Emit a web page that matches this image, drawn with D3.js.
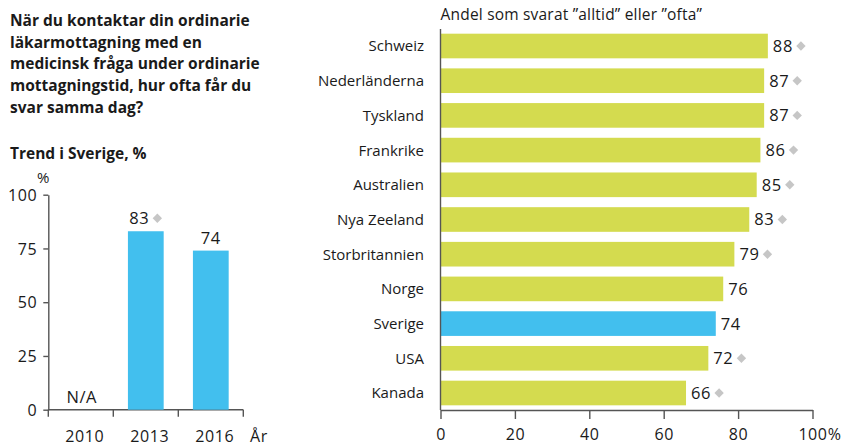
<!DOCTYPE html>
<html>
<head>
<meta charset="utf-8">
<script src="https://cdn.jsdelivr.net/npm/d3@7"></script>
<style>
  body { margin: 0; background: #fff; }
  svg { display: block; }
  text { font-family: "Open Sans", sans-serif; fill: #1a1a1a; }
  .title { font-weight: 700; font-size: 15.5px; }
  .num { font-size: 16.5px; letter-spacing: 0.6px; }
  .axis path, .axis line { stroke: #555; stroke-width: 1.4; }
  .axis text { font-size: 16px; letter-spacing: 0.6px; fill: #1a1a1a; }
</style>
</head>
<body>
<svg id="chart" width="841" height="447"></svg>
<script>
// left: trend in Sweden
const years = ['2010', '2013', '2016'];
const trendValues = [null, 83, 74];
const trendMarked = [false, true, false];
const trendTicks = [0, 25, 50, 75, 100];

// right: countries
const countries = ['Schweiz', 'Nederländerna', 'Tyskland', 'Frankrike', 'Australien',
  'Nya Zeeland', 'Storbritannien', 'Norge', 'Sverige', 'USA', 'Kanada'];
const countryValues = [88, 87, 87, 86, 85, 83, 79, 76, 74, 72, 66];
const countryMarked = [true, true, true, true, true, true, true, false, false, true, true];
const xTicks = [0, 20, 40, 60, 80, 100];

const titleLines = ['När du kontaktar din ordinarie', 'läkarmottagning med en',
  'medicinsk fråga under ordinarie', 'mottagningstid, hur ofta får du', 'svar samma dag?'];

const green = '#d4db4f';
const blue = '#42bfee';
const grey = '#c6c6c6';

const svg = d3.select('#chart');

// title text
const title = svg.append('text').attr('class', 'title');
titleLines.forEach((l, i) => {
  title.append('tspan').attr('x', 10).attr('y', 26 + i * 21.7).text(l);
});
svg.append('text').attr('class', 'title').attr('x', 10).attr('y', 159).text('Trend i Sverige, %');

function addDiamond(g, x, y) {
  g.append('path')
    .attr('d', d3.symbol().type(d3.symbolDiamond2).size(56)())
    .attr('transform', `translate(${x},${y})`)
    .attr('fill', grey);
}

// ---- left chart ----
const yL = d3.scaleLinear().domain([0, 100]).range([409.7, 194.7]);
const xL = d3.scaleBand().domain(years).range([48.3, 243.3]).paddingInner(0.45).paddingOuter(0.225);

const left = svg.append('g');
left.append('g').attr('class', 'axis')
  .attr('transform', 'translate(48.3,0)')
  .call(d3.axisLeft(yL).tickValues(trendTicks).tickSize(5).tickSizeOuter(0).tickPadding(6))
  .call(g => g.selectAll('text').attr('dy', '0.36em'));

const xAxisL = left.append('g').attr('class', 'axis')
  .attr('transform', 'translate(0,409.7)');
xAxisL.append('line').attr('x1', 48.3).attr('x2', 243.3).attr('y1', 0).attr('y2', 0);
const bounds = [48.3].concat(years.map(y => xL(y) - xL.step() * xL.paddingInner() / 2 + xL.step()));
bounds.forEach(b => xAxisL.append('line').attr('x1', b).attr('x2', b).attr('y1', 0).attr('y2', 7));
years.forEach(y => {
  xAxisL.append('text').attr('x', xL(y) + xL.bandwidth() / 2 + 4).attr('y', 27)
    .attr('dy', '0.36em').attr('text-anchor', 'middle').text(y);
});
xAxisL.append('text').attr('x', 250).attr('y', 27).attr('dy', '0.36em').text('År');
left.append('text').attr('x', 37).attr('y', 178).attr('dy', '0.36em').attr('font-size', 15).text('%');

years.forEach((y, i) => {
  const v = trendValues[i];
  const cx = xL(y) + xL.bandwidth() / 2;
  if (v === null) {
    left.append('text').attr('class', 'num').attr('x', cx + 1).attr('y', 397).attr('dy', '0.36em')
      .attr('text-anchor', 'middle').text('N/A');
    return;
  }
  left.append('rect').attr('x', xL(y)).attr('width', xL.bandwidth())
    .attr('y', yL(v)).attr('height', yL(0) - yL(v)).attr('fill', blue);
  const t = left.append('text').attr('class', 'num').attr('y', yL(v) - 13).attr('dy', '0.36em')
    .text(v);
  const w = t.node().getComputedTextLength();
  const total = trendMarked[i] ? w + 13 : w;
  t.attr('x', cx - total / 2);
  if (trendMarked[i]) addDiamond(left, cx - total / 2 + w + 8, yL(v) - 13);
});

// ---- right chart ----
const xR = d3.scaleLinear().domain([0, 100]).range([440.5, 812.5]);
const yR = d3.scaleBand().domain(countries).range([29, 410]).paddingInner(0.29).paddingOuter(0.135);

const right = svg.append('g');
right.append('text').attr('x', 440.5).attr('y', 20).attr('font-size', 15.5)
  .attr('letter-spacing', 0.2).text('Andel som svarat ”alltid” eller ”ofta”');

countries.forEach((c, i) => {
  const v = countryValues[i];
  const yc = yR(c) + yR.bandwidth() / 2;
  right.append('rect').attr('x', xR(0)).attr('y', yR(c))
    .attr('width', xR(v) - xR(0)).attr('height', yR.bandwidth())
    .attr('fill', c === 'Sverige' ? blue : green);
  const t = right.append('text').attr('class', 'num').attr('x', xR(v) + 5).attr('y', yc).attr('dy', '0.36em')
    .text(v);
  if (countryMarked[i]) addDiamond(right, xR(v) + 5 + t.node().getComputedTextLength() + 8, yc);
  right.append('text').attr('x', 424).attr('y', yc).attr('dy', '0.36em')
    .attr('text-anchor', 'end').attr('font-size', 15).text(c);
});

const xAxisR = right.append('g').attr('class', 'axis')
  .attr('transform', 'translate(0,410)')
  .call(d3.axisBottom(xR).tickValues(xTicks).tickSize(9).tickSizeOuter(0).tickPadding(10));
// percent sign hangs after the last tick label
xAxisR.selectAll('.tick').filter(d => d === 100).each(function() {
  const txt = d3.select(this).select('text');
  const w = txt.node().getComputedTextLength();
  d3.select(this).append('text').attr('x', w / 2).attr('y', txt.attr('y'))
    .attr('dy', txt.attr('dy')).attr('text-anchor', 'start').text('%');
});
right.append('line').attr('x1', 440.5).attr('x2', 440.5).attr('y1', 29).attr('y2', 410)
  .attr('stroke', '#555').attr('stroke-width', 1.4);
</script>
</body>
</html>
